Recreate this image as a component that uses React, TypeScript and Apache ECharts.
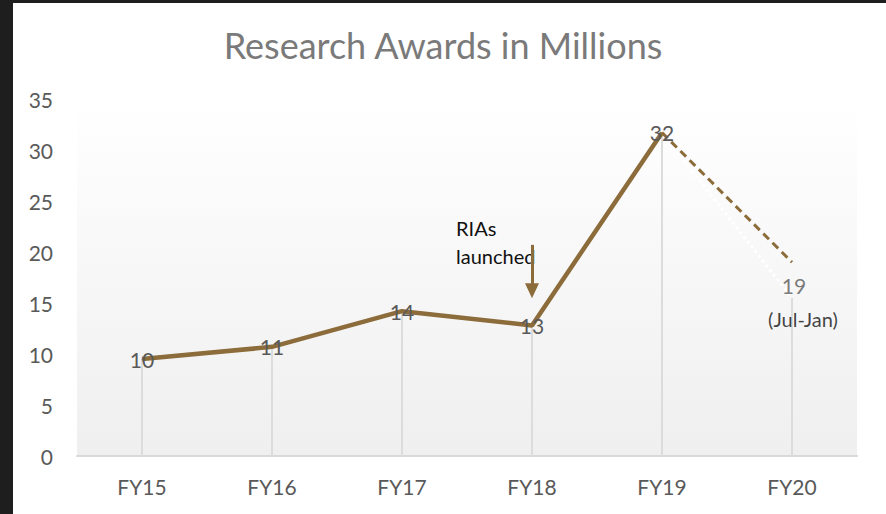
import React, { useEffect, useRef } from "react";
import * as echarts from "echarts";

const categories = ["FY15", "FY16", "FY17", "FY18", "FY19", "FY20"];
const actualValues = [9.5, 10.7, 14.2, 12.8, 31.7, null];
const projectedValues = [null, null, null, null, 31.7, 19];
const partialValues = [null, null, null, null, 31.7, 15.5];
const dropValues = [9.5, 10.7, 14.2, 12.8, 31.7, 15.5];
const pointLabels = ["10", "11", "14", "13", "32", ""];
const fy20Label = "19";
const fy20Note = "(Jul-Jan)";
const arrowFrom = 20.7;
const arrowTo = 16.2;
const titleText = "Research Awards in Millions";
const annotationText = "RIAs\nlaunched";

const FONT = "Lato, 'Open Sans', sans-serif";
const BROWN = "#8c6c3a";
const GRAY = "#595959";

export default function App() {
  const ref = useRef<HTMLDivElement>(null);
  useEffect(() => {
    if (!ref.current) return;
    const chart = echarts.init(ref.current, null, { renderer: "svg" });
    chart.setOption({
      animation: false,
      backgroundColor: "#ffffff",
      title: {
        text: titleText,
        left: "center",
        top: 27,
        padding: 0,
        textStyle: { fontFamily: FONT, fontSize: 36, fontWeight: "normal", color: "#7a7a7a" },
      },
      grid: {
        left: 77,
        right: 29,
        top: 99,
        bottom: 58,
        show: true,
        borderWidth: 0,
        backgroundColor: new echarts.graphic.LinearGradient(0, 0, 0, 1, [
          { offset: 0, color: "#ffffff" },
          { offset: 1, color: "#efefef" },
        ]),
      },
      xAxis: {
        type: "category",
        data: categories,
        boundaryGap: true,
        axisLine: { lineStyle: { color: "#d9d9d9", width: 2 } },
        axisTick: { show: false },
        axisLabel: { color: GRAY, fontFamily: FONT, fontSize: 21, margin: 20 },
      },
      yAxis: {
        type: "value",
        min: 0,
        max: 35,
        interval: 5,
        splitLine: { show: false },
        axisLine: { show: false },
        axisTick: { show: false },
        axisLabel: { color: GRAY, fontFamily: FONT, fontSize: 21, margin: 24 },
      },
      series: [
        {
          type: "bar",
          data: dropValues,
          barWidth: 2,
          itemStyle: { color: "#dcdcdc" },
          silent: true,
          z: 1,
        },
        {
          type: "line",
          data: partialValues,
          showSymbol: false,
          lineStyle: { color: "#ffffff", width: 3, type: "dotted" },
          z: 2,
        },
        {
          type: "line",
          data: projectedValues,
          showSymbol: false,
          symbol: "none",
          lineStyle: { color: BROWN, width: 3, type: [8, 5] },
          z: 3,
          label: { show: false },
        },
        {
          type: "line",
          data: actualValues,
          symbol: "circle",
          symbolSize: 1,
          showSymbol: true,
          itemStyle: { color: BROWN },
          lineStyle: { color: BROWN, width: 4.5 },
          z: 4,
          label: {
            show: true,
            position: "inside",
            color: GRAY,
            fontFamily: FONT,
            fontSize: 21,
            formatter: (p: any) => pointLabels[p.dataIndex],
          },
          markLine: {
            silent: true,
            symbol: ["none", "triangle"],
            symbolSize: [14, 15],
            label: { show: false },
            lineStyle: { color: BROWN, width: 3, type: "solid" },
            data: [[{ coord: [3, arrowFrom] }, { coord: [3, arrowTo] }]],
          },
        },
        {
          type: "scatter",
          data: [null, null, null, null, null, 19],
          symbolSize: 0,
          z: 5,
          label: {
            show: true,
            position: "inside",
            offset: [11, 40],
            formatter: () => `{a|${fy20Label}}\n{b|${fy20Note}}`,
            rich: {
              a: { color: GRAY, fontFamily: FONT, fontSize: 21, lineHeight: 33, padding: [0, 18, 0, 0] },
              b: { color: "#111111", fontFamily: FONT, fontSize: 20, lineHeight: 33 },
            },
          },
        },
      ],
      graphic: [
        {
          type: "text",
          left: 456,
          top: 214,
          style: {
            text: annotationText,
            fill: "#111111",
            font: `20px ${FONT}`,
            lineHeight: 28,
          },
        },
        {
          type: "rect",
          left: 0,
          top: 0,
          shape: { width: 13, height: 514 },
          style: { fill: "#1e1e1e" },
        },
        {
          type: "rect",
          left: 0,
          top: 0,
          shape: { width: 886, height: 3 },
          style: { fill: "#1e1e1e" },
        },
      ],
    });
    return () => chart.dispose();
  }, []);
  return <div ref={ref} style={{ width: 886, height: 514, position: "fixed", left: 0, top: 0 }} />;
}
